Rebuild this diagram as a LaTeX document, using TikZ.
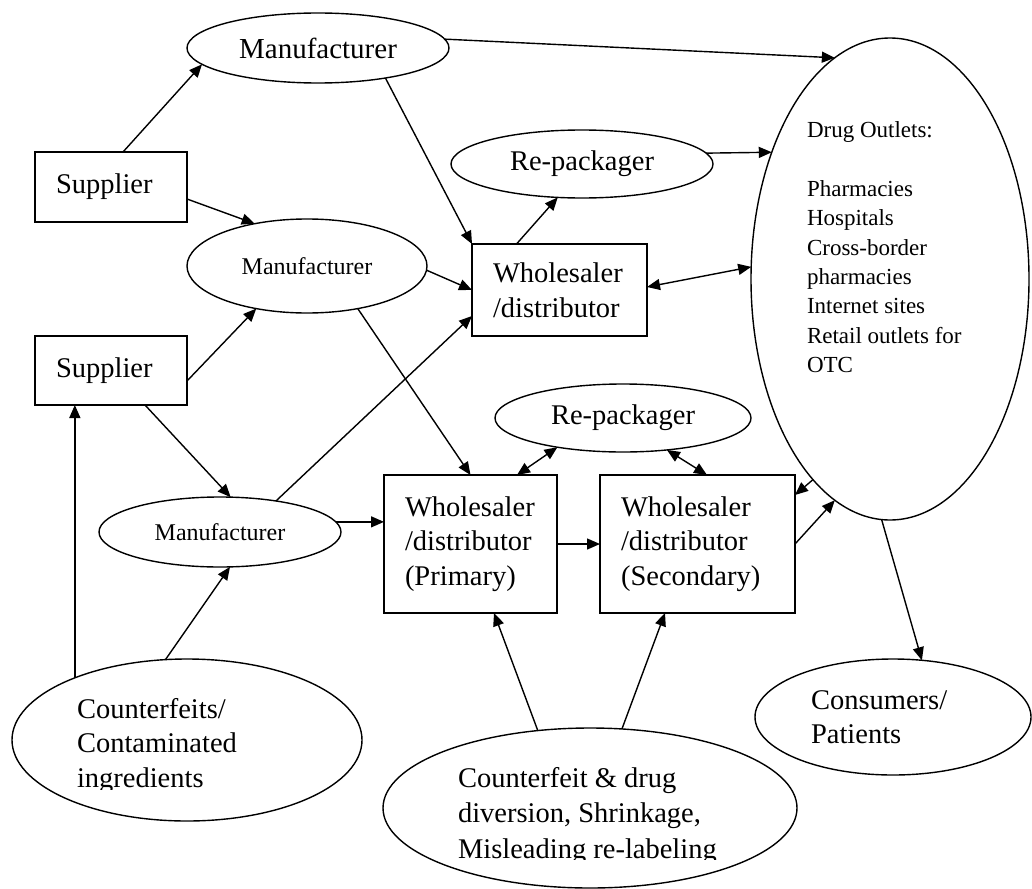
\documentclass[tikz,border=0pt]{standalone}
\usepackage{fontspec}
\setmainfont{Liberation Serif}
\usetikzlibrary{shapes.geometric,arrows.meta}
\newcommand\fbig{\fontsize{28.5}{34.5}\selectfont}
\newcommand\fmfr{\fontsize{24}{28}\selectfont}
\newcommand\fsm{\fontsize{23}{29.3}\selectfont}
\begin{document}
\begin{tikzpicture}[x=1pt,y=-1pt,
  >={Triangle[length=13pt,width=11pt]},
  shp/.style={draw, line width=1.4pt, inner sep=0pt, outer sep=0pt},
  box/.style={shp, rectangle, align=left, inner xsep=21pt, font=\fbig},
  ell/.style={shp, ellipse},
  txt/.style={inner sep=0pt, outer sep=0pt, align=left, anchor=north west},
  arr/.style={->, line width=1.4pt},
  darr/.style={<->, line width=1.4pt}]
\useasboundingbox (0,0) rectangle (1032,888);

% suppliers and wholesalers
\node[box, text width=110pt, minimum height=70pt] (sup1) at (111,187) {Supplier};
\node[box, text width=110pt, minimum height=69pt] (sup2) at (111,370.5) {Supplier};
\node[box, text width=133pt, minimum height=92pt] (ws) at (559.5,290) {Wholesaler\\/distributor};
\node[box, text width=131pt, minimum height=138pt] (wp) at (470.5,544) {Wholesaler\\/distributor\\(Primary)};
\node[box, text width=153pt, minimum height=138pt] (wsec) at (697.5,544) {Wholesaler\\/distributor\\(Secondary)};

% manufacturers and re-packagers
\node[ell, minimum width=262pt, minimum height=70pt, font={\fontsize{29}{34}\selectfont}] (man1) at (318,48) {Manufacturer};
\node[ell, minimum width=240pt, minimum height=94pt, font=\fmfr] (man2) at (307,266) {Manufacturer};
\node[ell, minimum width=242pt, minimum height=70pt, font=\fmfr] (man3) at (220,532) {Manufacturer};
\node[ell, minimum width=262pt, minimum height=68pt, font=\fbig] (rp1) at (582,164) {Re-packager};
\node[ell, minimum width=256pt, minimum height=68pt, font=\fbig] (rp2) at (623,418) {Re-packager};

% outlets, consumers and risk sources
\node[ell, minimum width=278pt, minimum height=482pt] (out) at (890,279) {};
\node[txt, font=\fsm] (outtxt) at (807,122) {Drug Outlets:\\[29.3pt]Pharmacies\\Hospitals\\Cross-border\\pharmacies\\Internet sites\\Retail outlets for\\OTC};
\node[ell, minimum width=276pt, minimum height=116pt] (cons) at (893,717) {};
\node[txt, font={\fontsize{28.5}{34}\selectfont}] (constxt) at (811,691) {Consumers/\\Patients};
\node[ell, minimum width=350pt, minimum height=162pt] (cfi) at (187,740) {};
\begin{scope}
  \clip (0,0) rectangle (1032,789);
  \node[txt, font=\fbig] (cfitxt) at (77,698) {Counterfeits/\\Contaminated\\ingredients};
\end{scope}
\node[ell, minimum width=414pt, minimum height=160pt] (cfd) at (590,808) {};
\begin{scope}
  \clip (0,0) rectangle (1032,859);
  \node[txt, font={\fontsize{28.5}{35.5}\selectfont}] (cfdtxt) at (458,767) {Counterfeit \& drug\\diversion, Shrinkage,\\Misleading re-labeling};
\end{scope}

% flows
\draw[arr] ([xshift=12pt]sup1.north) -- (man1.188);
\draw[arr] ([yshift=-12pt]sup1.east) -- (man2.141);
\draw[arr] (man1.-24) -- (ws.north west);
\draw[arr] (man1.4) -- (out.104);
\draw[arr] (man2.-2) -- (ws.west);
\draw[arr] ([yshift=-10.5pt]sup2.east) -- (man2.220);
\draw[arr] ([xshift=34pt]sup2.south) -- (man3.73);
\draw[arr] (man3.29) -- ([yshift=-26pt]ws.west);
\draw[arr] (man2.320) -- (wp.north);
\draw[arr] (man3.5) -- (man3.5 -| wp.west);
\draw[arr] (cfi.151) -- (cfi.151 |- sup2.south);
\draw[arr] (cfi.105) -- (man3.286);
\draw[arr] ([xshift=-43pt]ws.north) -- (rp1.234);
\draw[arr] (rp1.5) -- (out.133);
\draw[darr] ([yshift=3pt]ws.east) -- (out.175);
\draw[darr] ([xshift=-40pt]wp.north east) -- (rp2.204);
\draw[darr] ([xshift=9.5pt]wsec.north) -- (rp2.324);
\draw[arr] (wp.east) -- (wsec.west);
\draw[arr] (out.249) -- ([yshift=-20pt]wsec.north east);
\draw[arr] (wsec.east) -- (out.256);
\draw[arr] (out.268) -- (cons.63);
\draw[arr] (cfd.124) -- ([xshift=23.5pt]wp.south);
\draw[arr] (cfd.68) -- ([xshift=-32.5pt]wsec.south);
\end{tikzpicture}
\end{document}
